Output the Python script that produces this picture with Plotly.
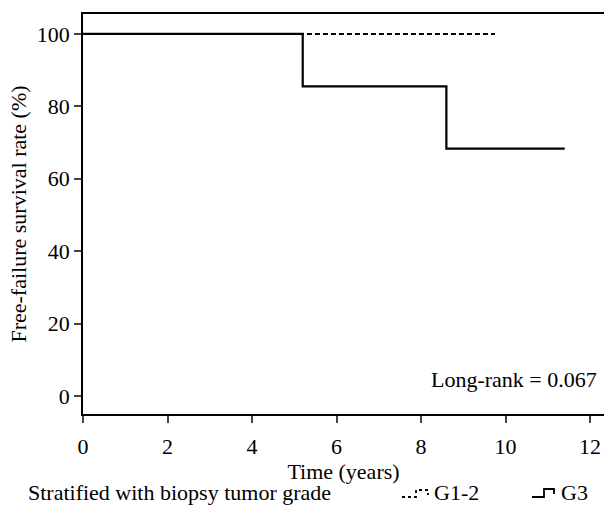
import plotly.graph_objects as go

# Data
g12_time = [0, 9.75]
g12_surv = [100, 100]
g3_time = [0, 5.2, 8.6, 11.4]
g3_surv = [100, 85.5, 68.3, 68.3]
y_ticks = [0, 20, 40, 60, 80, 100]
x_ticks = [0, 2, 4, 6, 8, 10, 12]

FONT = "Liberation Serif"
F = dict(family=FONT, size=22, color="black")

fig = go.Figure()
fig.add_trace(go.Scatter(x=g12_time, y=g12_surv, mode="lines", line=dict(color="black", width=2, dash="5px,3px", shape="hv"), name="G1-2"))
fig.add_trace(go.Scatter(x=g3_time, y=g3_surv, mode="lines", line=dict(color="black", width=2.2, shape="hv"), name="G3"))

fig.update_layout(
    width=604, height=506,
    margin=dict(l=83, r=0, t=14, b=92, autoexpand=False),
    plot_bgcolor="white", paper_bgcolor="white",
    showlegend=False,
    font=F,
    xaxis=dict(range=[0, 12.33], tickvals=x_ticks, showline=True, linecolor="black", linewidth=1.5,
               mirror=True, ticks="outside", ticklen=7, tickwidth=1.5, showgrid=False, zeroline=False,
               automargin=False, tickfont=F, ticklabelstandoff=5,
               title=dict(text="Time (years)", standoff=0, font=F)),
    yaxis=dict(range=[-5, 105.5], tickvals=y_ticks, showline=True, linecolor="black", linewidth=1.5,
               ticks="outside", ticklen=7, tickwidth=1.5, showgrid=False, zeroline=False,
               automargin=False, tickfont=F,
               title=dict(text="Free-failure survival rate (%)", standoff=4, font=F)),
)

fig.add_annotation(x=0.99, y=0.0, xref="paper", yref="y", text="Long-rank = 0.067", showarrow=False,
                   xanchor="right", yanchor="bottom", yshift=2, font=F)

def px(xp):
    return (xp - 83) / 521.0
def py(yp):
    return (414 - yp) / 400.0

# bottom legend line
fig.add_annotation(x=px(26), y=py(492), xref="paper", yref="paper", text="Stratified with biopsy tumor grade",
                   showarrow=False, xanchor="left", yanchor="middle", font=F)
fig.add_shape(type="path", xref="paper", yref="paper",
              path=f"M {px(402)} {py(497)} L {px(416)} {py(497)} L {px(416)} {py(490)} L {px(428)} {py(490)} L {px(428)} {py(495)}",
              line=dict(color="black", width=1.8, dash="dot"))
fig.add_annotation(x=px(432), y=py(492), xref="paper", yref="paper", text="G1-2", showarrow=False,
                   xanchor="left", yanchor="middle", font=F)
fig.add_shape(type="path", xref="paper", yref="paper",
              path=f"M {px(532)} {py(497)} L {px(544)} {py(497)} L {px(544)} {py(489)} L {px(554)} {py(489)} L {px(554)} {py(494)}",
              line=dict(color="black", width=1.8))
fig.add_annotation(x=px(559), y=py(492), xref="paper", yref="paper", text="G3", showarrow=False,
                   xanchor="left", yanchor="middle", font=F)

fig.write_html("out.html", config={"displayModeBar": False},
               post_script="document.body.style.margin='0';document.body.style.overflow='hidden';")
